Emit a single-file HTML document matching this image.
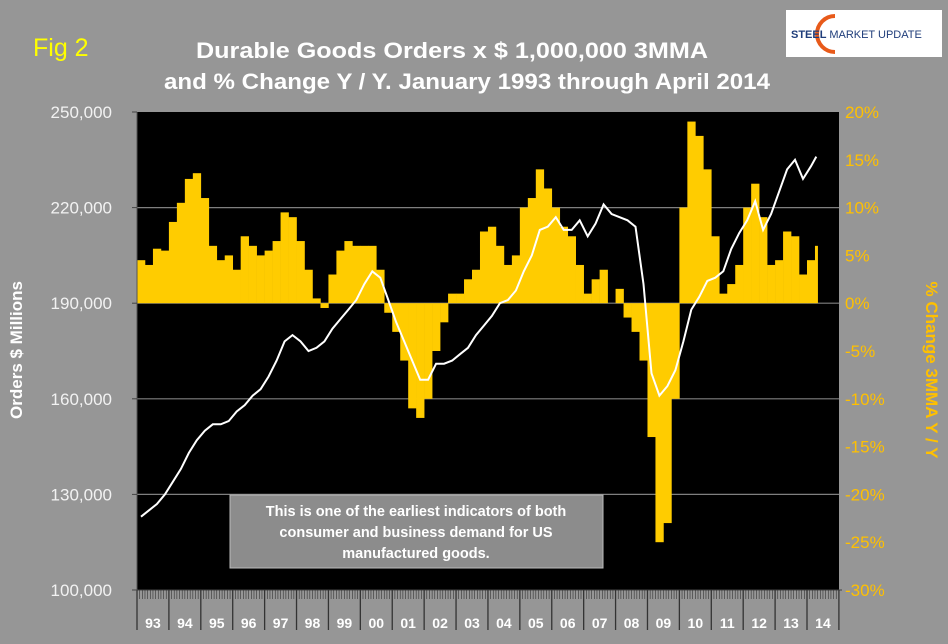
<!DOCTYPE html>
<html><head><meta charset="utf-8"><style>
body{margin:0;background:#969696;}
svg{display:block;font-family:"Liberation Sans",sans-serif;}
</style></head><body>
<svg id="c" width="948" height="644" viewBox="0 0 948 644">
<rect x="0" y="0" width="948" height="644" fill="#969696"/>
<text x="33" y="56" font-size="25" fill="#ffff00">Fig 2</text>
<g font-weight="bold" font-size="22" fill="#ffffff" text-anchor="middle">
<text x="452" y="58" textLength="512" lengthAdjust="spacingAndGlyphs">Durable Goods Orders x $ 1,000,000 3MMA</text>
<text x="467" y="89" textLength="606" lengthAdjust="spacingAndGlyphs">and % Change Y / Y. January 1993 through April 2014</text>
</g>
<g>
<rect x="786" y="10" width="156" height="47" fill="#ffffff"/>
<path d="M835,16 A16,16 0 1,0 835,52" stroke="#e85a1a" stroke-width="4" fill="none"/>
<text x="791" y="38" font-size="11" font-weight="bold" fill="#1f3d7a">STEEL <tspan font-weight="normal">MARKET UPDATE</tspan></text>
</g>
<rect x="137" y="112" width="702" height="478" fill="#000"/>
<g id="grid"></g>
<g id="bars"></g>
<path id="line" fill="none" stroke="#ffffff" stroke-width="2"/>
<g id="xaxis"></g>
<g id="yl"></g>
<g id="yr"></g>
<text transform="translate(22,350) rotate(-90)" text-anchor="middle" font-size="17" font-weight="bold" fill="#ffffff">Orders $ Millions</text>
<text transform="translate(926,370) rotate(90)" text-anchor="middle" font-size="17" font-weight="bold" fill="#ffc000">% Change 3MMA Y / Y</text>
<g>
<rect x="230" y="495" width="373" height="73" fill="#8c8c8c" stroke="#bbbbbb" stroke-width="1"/>
<g font-size="14.5" font-weight="bold" fill="#ffffff" text-anchor="middle">
<text x="416" y="516">This is one of the earliest indicators of both</text>
<text x="416" y="537">consumer and business demand for US</text>
<text x="416" y="558">manufactured goods.</text>
</g></g>
</svg>
<script>
const years=["93","94","95","96","97","98","99","00","01","02","03","04","05","06","07","08","09","10","11","12","13","14"];
const leftTicks=[100000,130000,160000,190000,220000,250000];
const rightTicks=[-30,-25,-20,-15,-10,-5,0,5,10,15,20];
const pctChange=[4.5,4,5.7,5.5, 8.5,10.5,13,13.6, 11,6,4.5,5, 3.5,7,6,5, 5.5,6.5,9.5,9, 6.5,3.5,0.5,-0.5, 3,5.5,6.5,6, 6,6,3.5,-1, -3,-6,-11,-12, -10,-5,-2,1, 1,2.5,3.5,7.5, 8,6,4,5, 10,11,14,12, 10,8,7,4, 1,2.5,3.5,0, 1.5,-1.5,-3,-6, -14,-25,-23,-10, 10,19,17.5,14, 7,1,2,4, 10,12.5,9,4, 4.5,7.5,7,3, 4.5,6];
const orders=[123,125,127,130, 134,138,143,147, 150,152,152,153, 156,158,161,163, 167,172,178,180, 178,175,176,178, 182,185,188,191, 196,200,198,191, 184,178,172,166, 166,171,171,172, 174,176,180,183, 186,190,191,194, 200,205,213,214, 217,213,213,216, 211,215,221,218, 217,216,214,196, 168,161,164,169, 178,188,192,197, 198,200,207,212, 216,222,213,218, 225,232,235,229, 233,236];
const NS='http://www.w3.org/2000/svg';
const X0=137,X1=839,YT=112,YB=590,PX_YEAR=(807-137)/21;
const totalMonths=256;
function xm(m){return X0+m*PX_YEAR/12;}
function yL(v){return YB-(v-100000)*(YB-YT)/150000;}
function yR(p){return YB-(p+30)*(YB-YT)/50;}
function mk(t,a,p){const e=document.createElementNS(NS,t);for(const k in a)e.setAttribute(k,a[k]);p.appendChild(e);return e;}
const grid=document.getElementById('grid');
leftTicks.slice(1,-1).forEach(v=>{const l=mk('line',{x1:X0,x2:X1,y1:yL(v),y2:yL(v),stroke:'#7f7f7f','stroke-width':1.2},grid);

});
const bars=document.getElementById('bars');
pctChange.forEach((p,i)=>{const m0=i*3,m1=Math.min(i*3+3,totalMonths);const y0=yR(0),y1=yR(p);
const r=mk('rect',{x:xm(m0),width:xm(m1)-xm(m0)+0.3,y:Math.min(y0,y1),height:Math.abs(y1-y0),fill:'#ffcc00'},bars);

});
let d='';orders.forEach((v,i)=>{const m=Math.min(i*3+1.5,totalMonths-0.5);d+=(i?'L':'M')+xm(m).toFixed(1)+','+yL(v*1000).toFixed(1);});
document.getElementById('line').setAttribute('d',d);
const xa=document.getElementById('xaxis');
mk('line',{x1:X0-3,x2:X1+3,y1:YB,y2:YB,stroke:'#444','stroke-width':1},xa);
for(let m=0;m<=264;m++){const x=xm(m);const yr=m%12==0;const l=mk('line',{x1:x,x2:x,y1:YB,y2:yr?630:599,stroke:'#333','stroke-width':yr?1.3:0.6},xa);}
years.forEach((y,i)=>{const t=mk('text',{x:xm(i*12+6),y:628,'text-anchor':'middle','font-size':14,'font-weight':'bold',fill:'#ffffff'},xa);t.textContent=y;

});
const yl=document.getElementById('yl');
mk('line',{x1:X0,x2:X0,y1:YT,y2:YB,stroke:'#555'},yl);
leftTicks.forEach(v=>{mk('line',{x1:X0-5,x2:X0,y1:yL(v),y2:yL(v),stroke:'#444'},yl);
const t=mk('text',{x:112,y:yL(v)+6,'text-anchor':'end','font-size':17,fill:'#f2f2f2'},yl);t.textContent=v.toLocaleString('en-US');

});
const yr=document.getElementById('yr');
rightTicks.forEach(p=>{const t=mk('text',{x:845,y:yR(p)+6,'font-size':17,fill:'#ffc000'},yr);t.textContent=p+'%';

});
</script>
</body></html>
